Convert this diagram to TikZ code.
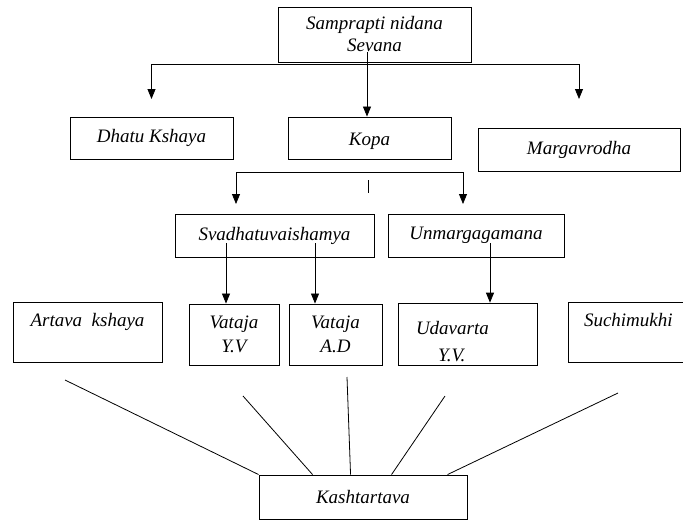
\documentclass[tikz,border=0pt]{standalone}
\usepackage{fontspec}
\setmainfont{Liberation Serif}
\usetikzlibrary{arrows.meta}

\begin{document}
\begin{tikzpicture}[x=1pt,y=-1pt,
  box/.style={draw, line width=0.9pt, inner sep=4pt, align=center,
    font=\itshape\fontsize{19}{22}\selectfont},
  arr/.style={-{Triangle[length=10pt,width=8pt]}, line width=0.8pt},
  link/.style={line width=0.8pt}]

  \useasboundingbox (0,0) rectangle (683,520);

  % top box
  \node[box, minimum width=193pt, minimum height=55pt] (sevana) at (374.5,34.5) {Samprapti nidana\\Sevana};

  % second row
  \node[box, minimum width=163pt, minimum height=42pt] (dhatu) at (151.5,138) {Dhatu Kshaya};
  \node[box, minimum width=163pt, minimum height=42pt] (kopa) at (369.5,138) {\rule{0pt}{19pt}Kopa};
  \node[box, minimum width=202pt, minimum height=43pt] (marga) at (579,149.5) {Margavrodha};

  % third row
  \node[box, minimum width=199pt, minimum height=43pt] (svadha) at (274.5,235.5) {Svadhatuvaishamya};
  \node[box, minimum width=176pt, minimum height=43pt] (unmarga) at (476,235.5) {Unmargagamana};

  % fourth row
  \node[box, minimum width=149pt, text height=20pt, text depth=32pt] (artava) at (87.5,332) {Artava\ \ kshaya};
  \node[box, minimum width=90pt, minimum height=61pt] (vatajayv) at (234,334.5) {Vataja\\[2pt]Y.V};
  \node[box, minimum width=93pt, minimum height=61pt] (vatajaad) at (335.5,334.5) {Vataja\\[2pt]A.D};
  \node[box, text width=131pt, inner xsep=4pt, minimum height=61pt, align=left] (udavarta) at (467.5,334.5)
    {\hspace*{14pt}\rule{0pt}{27.5pt}Udavarta\\[5pt]\hspace*{36pt}Y.V.};
  \node[box, text width=130pt, inner xsep=4pt, text height=20pt, text depth=32pt, align=left] (suchi) at (637,332)
    {\hspace*{12pt}Suchimukhi};

  % bottom box
  \node[box, minimum width=208pt, minimum height=44pt] (kasht) at (363,497) {Kashtartava};

  % arrows from the top box
  \coordinate (topbar) at (367,64);
  \draw[link] (topbar -| dhatu) -- (topbar -| marga);
  \draw[arr] (topbar -| dhatu) -- ++(0,35);
  \draw[arr] (topbar -| marga) -- ++(0,35);
  \coordinate (kopain) at (367,52);
  \draw[arr] (kopain) -- (kopain |- kopa.north);

  % arrows below kopa
  \coordinate (kopabar) at (236,172);
  \draw[arr] (kopabar) -- ++(0,32);
  \draw[arr] (kopabar) -- ++(227,0) -- ++(0,32);
  \coordinate (tick) at (368,180);
  \draw[link] (tick) -- ++(0,13);

  % arrows to the fourth row
  \coordinate (yvin) at (226,243);
  \coordinate (adin) at (315,243);
  \coordinate (udin) at (490,243);
  \foreach \s/\t in {yvin/vatajayv, adin/vatajaad, udin/udavarta}
    \draw[arr] (\s) -- (\s |- \t.north);

  % lines to kashtartava
  \coordinate (k1) at (65,380);
  \coordinate (k2) at (243,396);
  \coordinate (k3) at (347,377);
  \coordinate (k4) at (445,396);
  \coordinate (k5) at (618,393);
  \foreach \k/\d in {k1/0, k2/54, k3/92, k4/133, k5/189}
    \draw[link] (\k) -- ([xshift=\d pt]kasht.north west);

\end{tikzpicture}
\end{document}
